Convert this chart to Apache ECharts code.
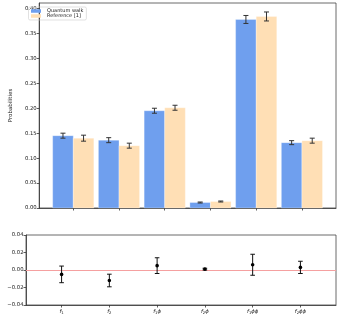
<!DOCTYPE html>
<html>
<head>
<meta charset="utf-8">
<script src="https://cdn.jsdelivr.net/npm/echarts@6/dist/echarts.min.js"></script>
<style>html,body{margin:0;padding:0;background:#fff}#c{width:339px;height:316px}</style>
</head>
<body>
<div id="c"></div>
<script>
// ---- data ----
const categories = ['f_1', 'f_2', 'f_1ϕ', 'f_2ϕ', 'f_1ϕϕ', 'f_2ϕϕ'];
const qwValues  = [0.145, 0.136, 0.195, 0.011, 0.378, 0.131];
const qwErrors  = [0.005, 0.005, 0.005, 0.001, 0.008, 0.004];
const refValues = [0.140, 0.125, 0.201, 0.013, 0.384, 0.135];
const refErrors = [0.006, 0.005, 0.005, 0.001, 0.009, 0.005];
const diffValues = [-0.005, -0.012, 0.005, 0.001, 0.006, 0.003];
const diffErrors = [0.0095, 0.0072, 0.009, 0.001, 0.012, 0.007];
const topTicks = [0, 0.05, 0.10, 0.15, 0.20, 0.25, 0.30, 0.35, 0.40];
const bottomTicks = [-0.04, -0.02, 0, 0.02, 0.04];

const BW = 0.45;
const FONT = 'DejaVu Sans';
const blue = '#6f9fee', orange = '#ffdfb5';
const positions = categories.map((c, i) => i);

function barRender(offset, color) {
  return function (params, api) {
    const x = api.value(0), y = api.value(1);
    const a = api.coord([x + offset, y]);
    const b = api.coord([x + offset + BW, 0]);
    return { type: 'rect', shape: { x: a[0], y: a[1], width: b[0] - a[0], height: b[1] - a[1] },
      style: { fill: color, stroke: 'rgba(255,255,255,0.5)', lineWidth: 0.6 } };
  };
}
function errRender(color, cap, dot) {
  return function (params, api) {
    const x = api.value(0), y = api.value(1), e = api.value(2);
    const t = api.coord([x, y + e]), b = api.coord([x, y - e]), c = api.coord([x, y]);
    const st = { stroke: color, lineWidth: 1 };
    const ch = [
      { type: 'line', shape: { x1: t[0], y1: t[1], x2: b[0], y2: b[1] }, style: st },
      { type: 'line', shape: { x1: t[0] - cap, y1: t[1], x2: t[0] + cap, y2: t[1] }, style: st },
      { type: 'line', shape: { x1: b[0] - cap, y1: b[1], x2: b[0] + cap, y2: b[1] }, style: st }
    ];
    if (dot) ch.push({ type: 'circle', shape: { cx: c[0], cy: c[1], r: 1.8 }, style: { fill: '#000' } });
    return { type: 'group', children: ch };
  };
}

const axisLineStyle = { color: '#333', width: 0.8 };
const labelStyle = { fontFamily: FONT, fontSize: 5.3, color: '#222' };

const option = {
  animation: false,
  backgroundColor: '#fff',
  grid: [
    { left: 26, top: 3, width: 310, height: 205, show: true, borderColor: '#444', borderWidth: 0.8 },
    { left: 26, top: 235, width: 310, height: 70, show: true, borderColor: '#444', borderWidth: 0.8 }
  ],
  legend: {
    left: 28.5, top: 7, orient: 'vertical', itemWidth: 10, itemHeight: 3.5, itemGap: 0,
    padding: [1.5, 3, 1.5, 2.5], borderColor: '#ccc', borderWidth: 0.6, borderRadius: 1.5,
    textStyle: { fontFamily: FONT, fontSize: 5, color: '#222', padding: [0, 0, 0, 1] },
    data: [{ name: 'Quantum walk', icon: 'rect' }, { name: 'Reference [1]', icon: 'rect' }]
  },
  xAxis: [
    { gridIndex: 0, type: 'value', min: -0.745, max: 5.745, splitLine: { show: false },
      axisLine: { onZero: false, lineStyle: axisLineStyle },
      axisTick: { length: 2.5, lineStyle: axisLineStyle, customValues: positions },
      axisLabel: { show: false } },
    { gridIndex: 1, type: 'value', min: -0.745, max: 5.745, splitLine: { show: false },
      axisLine: { onZero: false, lineStyle: axisLineStyle },
      axisTick: { length: 2.5, lineStyle: axisLineStyle, customValues: positions },
      axisLabel: {
        customValues: positions, margin: 3,
        formatter: function (v) {
          const s = categories[Math.round(v)] || '';
          const p = s.split('_');
          const sub = p[1].charAt(0), rest = p[1].slice(1);
          return '{i|' + p[0] + '}{s|' + sub + '}' + (rest ? '{i|' + rest + '}' : '');
        },
        rich: {
          i: { fontFamily: FONT, fontStyle: 'italic', fontSize: 5.3, color: '#222' },
          s: { fontFamily: FONT, fontSize: 3.8, color: '#222', verticalAlign: 'bottom', padding: [3, 0, 0, 0] }
        }
      } }
  ],
  yAxis: [
    { gridIndex: 0, type: 'value', min: 0, max: 0.411, splitLine: { show: false },
      name: 'Probabilities', nameLocation: 'middle', nameGap: 18.5,
      nameTextStyle: { fontFamily: FONT, fontSize: 5.5, color: '#222' },
      axisLine: { show: true, onZero: false, lineStyle: axisLineStyle },
      axisTick: { show: true, length: 2.5, lineStyle: axisLineStyle, customValues: topTicks },
      axisLabel: Object.assign({ customValues: topTicks, margin: 2.5, showMaxLabel: true, hideOverlap: false,
        formatter: v => v.toFixed(2) }, labelStyle) },
    { gridIndex: 1, type: 'value', min: -0.04, max: 0.04, splitLine: { show: false },
      axisLine: { show: true, onZero: false, lineStyle: axisLineStyle },
      axisTick: { show: true, length: 2.5, lineStyle: axisLineStyle, customValues: bottomTicks },
      axisLabel: Object.assign({ customValues: bottomTicks, margin: 2.5,
        formatter: v => (v < -1e-9 ? '\u2212' : '') + Math.abs(v).toFixed(2) }, labelStyle) }
  ],
  series: [
    { name: 'Quantum walk', type: 'custom', xAxisIndex: 0, yAxisIndex: 0, itemStyle: { color: blue },
      renderItem: barRender(-BW, blue), encode: { x: 0, y: 1 },
      data: positions.map(i => [i, qwValues[i]]) },
    { name: 'Reference [1]', type: 'custom', xAxisIndex: 0, yAxisIndex: 0, itemStyle: { color: orange },
      renderItem: barRender(0, orange), encode: { x: 0, y: 1 },
      data: positions.map(i => [i, refValues[i]]) },
    { name: 'qwErr', type: 'custom', xAxisIndex: 0, yAxisIndex: 0, z: 5,
      renderItem: errRender('#333', 2.5, false), encode: { x: 0, y: 1 },
      data: positions.map(i => [i - BW / 2, qwValues[i], qwErrors[i]]) },
    { name: 'refErr', type: 'custom', xAxisIndex: 0, yAxisIndex: 0, z: 5,
      renderItem: errRender('#333', 2.5, false), encode: { x: 0, y: 1 },
      data: positions.map(i => [i + BW / 2, refValues[i], refErrors[i]]) },
    { name: 'diff', type: 'custom', xAxisIndex: 1, yAxisIndex: 1, z: 5,
      renderItem: errRender('#111', 2.3, true), encode: { x: 0, y: 1 },
      data: positions.map(i => [i, diffValues[i], diffErrors[i]]),
      markLine: { silent: true, symbol: 'none', label: { show: false },
        lineStyle: { color: '#f5a0a0', width: 1, type: 'solid' }, data: [{ yAxis: 0 }], z: 1 } }
  ]
};
const chart = echarts.init(document.getElementById('c'), null, { renderer: 'canvas' });
chart.setOption(option);
</script>
</body>
</html>
